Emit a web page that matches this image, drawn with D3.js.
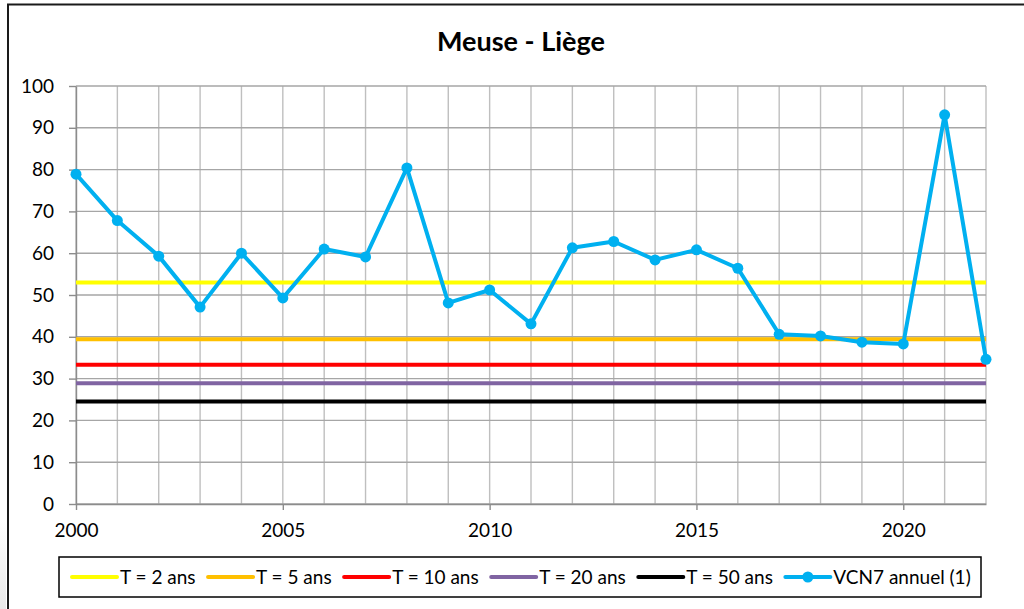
<!DOCTYPE html>
<html><head><meta charset="utf-8">
<script src="https://cdn.jsdelivr.net/npm/d3@7"></script>
<style>
html,body{margin:0;padding:0;background:#fff;}
svg{display:block;font-family:Lato, "Open Sans", sans-serif;}
</style></head>
<body>
<svg id="c" width="1024" height="609"></svg>
<script>
const title = "Meuse - Liège";
const years = [2000,2001,2002,2003,2004,2005,2006,2007,2008,2009,2010,2011,2012,2013,2014,2015,2016,2017,2018,2019,2020,2021,2022];
const vcn7 = [78.9,67.8,59.3,47.1,60.0,49.3,61.0,59.1,80.4,48.1,51.2,43.1,61.3,62.8,58.4,60.8,56.4,40.6,40.2,38.7,38.3,93.1,34.6];
const thresholdNames = ["T = 2 ans","T = 5 ans","T = 10 ans","T = 20 ans","T = 50 ans"];
const thresholdValues = [53.0,39.4,33.3,28.9,24.5];
const thresholdColors = ["#ffff00","#ffc000","#ff0000","#8064a2","#000000"];
const seriesName = "VCN7 annuel (1)";
const seriesColor = "#00b0f0";
const yTicks = [0,10,20,30,40,50,60,70,80,90,100];
const xTicks = [2000,2005,2010,2015,2020];

const svg = d3.select("#c");
const W=1024,H=609;
const m={left:76,right:986,top:86,bottom:504};

// light shadow at left bottom
const grad = svg.append("defs").append("linearGradient").attr("id","sh").attr("x1",0).attr("x2",0).attr("y1",0).attr("y2",1);
grad.append("stop").attr("offset","0").attr("stop-color","#fff");
grad.append("stop").attr("offset","1").attr("stop-color","#e8e8e8");
svg.append("rect").attr("x",0).attr("y",520).attr("width",6).attr("height",89).attr("fill","url(#sh)");

// outer frame
svg.append("line").attr("x1",7).attr("x2",W).attr("y1",4.5).attr("y2",4.5).attr("stroke","#1a1a1a").attr("stroke-width",2);
svg.append("line").attr("x1",8).attr("x2",8).attr("y1",4).attr("y2",H).attr("stroke","#1a1a1a").attr("stroke-width",2);

const x = d3.scaleLinear().domain([2000,2022]).range([m.left,m.right]);
const y = d3.scaleLinear().domain([0,100]).range([m.bottom,m.top]);

// title
svg.append("text").attr("x",521).attr("y",51).attr("text-anchor","middle")
  .attr("font-weight","bold").attr("font-size",27).attr("fill","#000").text(title);

// grid
const g = svg.append("g");
g.selectAll("line.v").data(years).join("line")
  .attr("x1",d=>x(d)).attr("x2",d=>x(d)).attr("y1",m.top).attr("y2",m.bottom)
  .attr("stroke","#bfbfbf").attr("stroke-width",1.4);
g.selectAll("line.h").data(yTicks).join("line")
  .attr("x1",m.left).attr("x2",m.right).attr("y1",d=>y(d)).attr("y2",d=>y(d))
  .attr("stroke","#a6a6a6").attr("stroke-width",1.4);

// axes
const ya = svg.append("g").attr("transform",`translate(${m.left},0)`)
  .call(d3.axisLeft(y).tickValues(yTicks).tickSize(7).tickSizeOuter(0).tickPadding(15));
const xa = svg.append("g").attr("transform",`translate(0,${m.bottom})`)
  .call(d3.axisBottom(x).tickValues(xTicks).tickFormat(d3.format("d")).tickSize(6).tickSizeOuter(0).tickPadding(14));
[ya,xa].forEach(a=>{
  a.select(".domain").attr("stroke","#8c8c8c").attr("stroke-width",1.4);
  a.selectAll(".tick line").attr("stroke","#8c8c8c").attr("stroke-width",1.4);
  a.selectAll("text").attr("font-size",19).attr("fill","#000").attr("font-family","Lato, sans-serif");
});

// threshold lines
svg.append("g").selectAll("line").data(thresholdValues).join("line")
  .attr("x1",m.left).attr("x2",m.right).attr("y1",d=>y(d)).attr("y2",d=>y(d))
  .attr("stroke",(d,i)=>thresholdColors[i]).attr("stroke-width",4);

// series
const line = d3.line().x((d,i)=>x(years[i])).y(d=>y(d));
svg.append("path").datum(vcn7).attr("d",line).attr("fill","none")
  .attr("stroke",seriesColor).attr("stroke-width",4).attr("stroke-linejoin","round");
svg.append("g").selectAll("circle").data(vcn7).join("circle")
  .attr("cx",(d,i)=>x(years[i])).attr("cy",d=>y(d)).attr("r",5.5).attr("fill",seriesColor);

// legend
const lg = svg.append("g");
lg.append("rect").attr("x",59).attr("y",557).attr("width",922).attr("height",40)
  .attr("fill","#fff").attr("stroke","#000").attr("stroke-width",1.5);
const items = thresholdNames.map((n,i)=>({name:n,color:thresholdColors[i],marker:false}))
  .concat([{name:seriesName,color:seriesColor,marker:true}]);
let cx = 72;
const ly = 577;
items.forEach(it=>{
  lg.append("line").attr("x1",cx).attr("x2",cx+45).attr("y1",ly).attr("y2",ly)
    .attr("stroke",it.color).attr("stroke-width",4).attr("stroke-linecap","round");
  if(it.marker) lg.append("circle").attr("cx",cx+22.5).attr("cy",ly).attr("r",5.5).attr("fill",it.color);
  const t = lg.append("text").attr("x",cx+48).attr("y",ly+7).attr("font-size",19).attr("fill","#000").text(it.name);
  cx += 48 + t.node().getComputedTextLength() + 12.5;
});
</script>
</body></html>
